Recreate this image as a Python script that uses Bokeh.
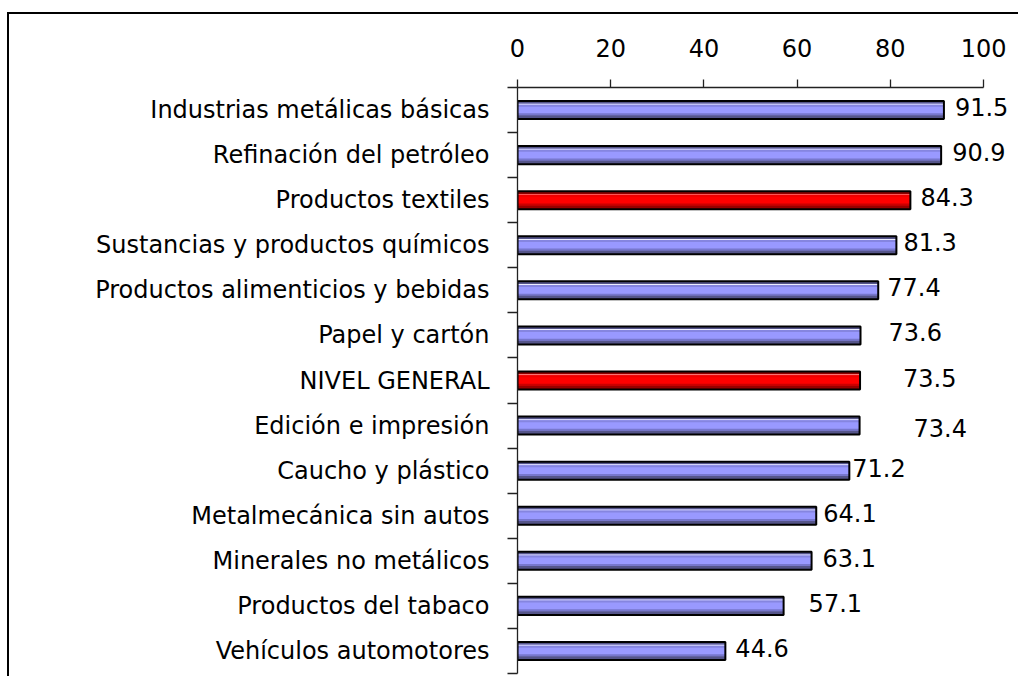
from bokeh.plotting import figure
from bokeh.models import Range1d, LinearAxis, FixedTicker, ColumnDataSource
from bokeh.transform import dodge
from bokeh.core.properties import value
from bokeh.embed import file_html
from bokeh.resources import INLINE

# ---------------- data ----------------
categories = [
    "Industrias metálicas básicas",
    "Refinación del petróleo",
    "Productos textiles",
    "Sustancias y productos químicos",
    "Productos alimenticios y bebidas",
    "Papel y cartón",
    "NIVEL GENERAL",
    "Edición e impresión",
    "Caucho y plástico",
    "Metalmecánica sin autos",
    "Minerales no metálicos",
    "Productos del tabaco",
    "Vehículos automotores",
]
values = [91.5, 90.9, 84.3, 81.3, 77.4, 73.6, 73.5, 73.4, 71.2, 64.1, 63.1, 57.1, 44.6]
highlighted = ["Productos textiles", "NIVEL GENERAL"]
x_ticks = [0, 20, 40, 60, 80, 100]

# ---------------- style ----------------
FONT = "DejaVu Sans"
FSIZE = "24px"
label_dx = [11, 11, 10, 7, 9, 28, 43, 54, 3, 7, 11, 25, 10]   # px offsets of value labels
label_dy = [-3, -3, -3, -3, -3, -3, -3, 2, -3, -3, -3, -3, -3]
blue = dict(main="#9999FF", top="#55558A", hi="#ECECFF", light="#8585E0", mid="#7777CC", bot="#55558A")
red = dict(main="#FF0000", top="#8B0000", hi="#FF9C9C", light="#EE0000", mid="#CC0000", bot="#990000")

n = len(categories)
ys = [n - 0.5 - i for i in range(n)]
pal = [red if c in highlighted else blue for c in categories]

src = ColumnDataSource(dict(
    y=ys,
    value=values,
    label=[f"{v:.1f}" for v in values],
    main=[c["main"] for c in pal],
    top=[c["top"] for c in pal],
    hi=[c["hi"] for c in pal],
    light=[c["light"] for c in pal],
    mid=[c["mid"] for c in pal],
    bot=[c["bot"] for c in pal],
    dx=label_dx,
    dy=label_dy,
))

p = figure(
    width=1018, height=676,
    x_range=Range1d(0, 107.5), y_range=Range1d(0, n),
    output_backend="svg", toolbar_location=None,
    x_axis_location=None, y_axis_location=None,
    min_border_left=517, min_border_right=0, min_border_top=87, min_border_bottom=3,
    background_fill_color="white", border_fill_color=None,
    styles={
        "background-color": "white",
        "background-image": "linear-gradient(#000,#000), linear-gradient(#000,#000)",
        "background-size": "2px 100%, 100% 2px",
        "background-position": "7px 12px, 7px 12px",
        "background-repeat": "no-repeat",
    },
)
p.outline_line_color = None
p.grid.visible = False

# bars built from layered hbars to mimic the shaded 3D look
H = 0.40
p.hbar(y="y", left=0, right="value", height=H, fill_color="main", line_color=None, source=src)
layers = [(0.170, 0.060, "top"), (0.129, 0.022, "hi"), (0.096, 0.044, "light"),
          (-0.095, 0.044, "mid"), (-0.158, 0.082, "bot")]
for off, h, col in layers:
    p.hbar(y=dodge("y", off), left=0, right="value", height=h,
           fill_color=col, line_color=None, source=src)
p.hbar(y="y", left=0, right="value", height=H, fill_color=None,
       line_color="black", line_width=2, source=src)

# value labels
p.text(x="value", y="y", text="label", x_offset="dx", y_offset="dy", source=src,
       text_align="left", text_baseline="middle", text_color="black",
       text_font=value(FONT), text_font_size=FSIZE)

# top axis
xaxis = LinearAxis(
    ticker=FixedTicker(ticks=x_ticks, minor_ticks=[]), bounds=(0, 100),
    major_tick_out=8, major_tick_in=0, minor_tick_out=0, minor_tick_in=0,
    major_label_standoff=23,
    major_label_text_font=FONT, major_label_text_font_size=FSIZE,
    major_label_text_color="black",
    axis_line_color="#222222", axis_line_width=1.3,
    major_tick_line_color="#222222", major_tick_line_width=1.3,
)
p.add_layout(xaxis, "above")

# left axis: labels at band centres, ticks at band boundaries
yaxis = LinearAxis(
    ticker=FixedTicker(ticks=ys, minor_ticks=list(range(n + 1))), bounds=(0, n),
    major_tick_out=0, major_tick_in=0, minor_tick_out=10, minor_tick_in=0,
    major_label_overrides={y: c for y, c in zip(ys, categories)},
    major_label_standoff=18,
    major_label_text_font=FONT, major_label_text_font_size=FSIZE,
    major_label_text_color="black",
    axis_line_color="#222222", axis_line_width=1.3,
    minor_tick_line_color="#222222", minor_tick_line_width=1.3,
)
p.add_layout(yaxis, "left")

open("out.html", "w").write(file_html(p, INLINE))
